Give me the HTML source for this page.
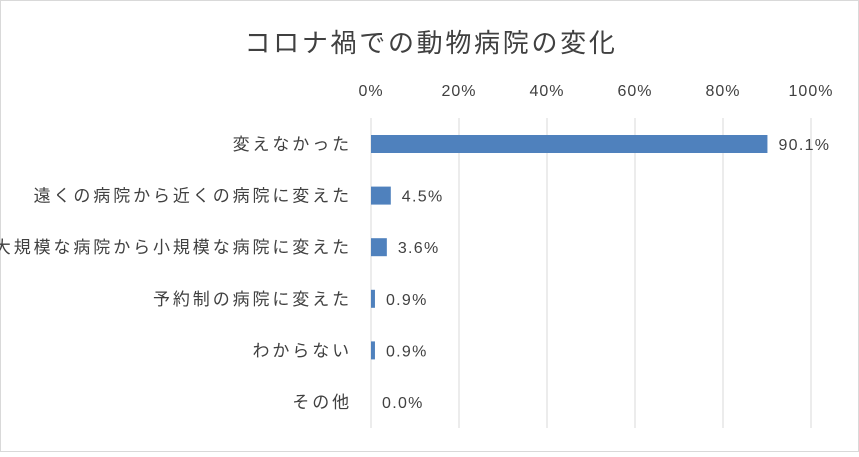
<!DOCTYPE html>
<html><head><meta charset="utf-8"><style>
body{margin:0;background:#fff}
svg text{font-family:"Liberation Sans","Noto Sans CJK JP",sans-serif;fill:#404040}
</style></head><body>
<svg width="859" height="452" xmlns="http://www.w3.org/2000/svg">
<rect x="0.5" y="0.5" width="858" height="451" fill="#fff" stroke="#d9d9d9"/>
<text x="431" y="52" font-size="26" letter-spacing="2.7" text-anchor="middle">コロナ禍での動物病院の変化</text>
<g id="grid"></g><g id="bars"></g>
</svg>
<script>
const categories=["変えなかった","遠くの病院から近くの病院に変えた","大規模な病院から小規模な病院に変えた","予約制の病院に変えた","わからない","その他"];
const values=[90.1,4.5,3.6,0.9,0.9,0.0];
const ticks=[0,20,40,60,80,100];
const ns="http://www.w3.org/2000/svg";
const x0=371,x1=811,yTop=118,yBot=428,row0=144,rowStep=51.6,barH=18;
const xs=v=>x0+(x1-x0)*v/100;
const ys=i=>row0+i*rowStep;
const grid=document.getElementById('grid'),bars=document.getElementById('bars');
function mk(tag,attrs,parent,txt){const e=document.createElementNS(ns,tag);for(const k in attrs)e.setAttribute(k,attrs[k]);if(txt!==undefined)e.textContent=txt;parent.appendChild(e);return e;}
ticks.forEach(t=>{
 const l=mk('line',{x1:xs(t),x2:xs(t),y1:yTop,y2:yBot,stroke:'#d9d9d9'},grid);
 
 
 const tx=mk('text',{x:xs(t),y:96,'font-size':16,'letter-spacing':1,'text-anchor':'middle'},grid,t+'%');
 
 
});
categories.forEach((c,i)=>{
 const y=ys(i);
 const lab=mk('text',{x:352,y:y+6,'font-size':17,'letter-spacing':2.9,'text-anchor':'end'},bars,c);
 
 
 const w=xs(values[i])-x0;
 const r=mk('rect',{x:x0,y:y-barH/2,width:w,height:barH,fill:'#4f81bd'},bars);
 
 
 const v=mk('text',{x:xs(values[i])+11,y:y+6,'font-size':16,'letter-spacing':1.3},bars,values[i].toFixed(1)+'%');
 
 
});
</script>
</body></html>
